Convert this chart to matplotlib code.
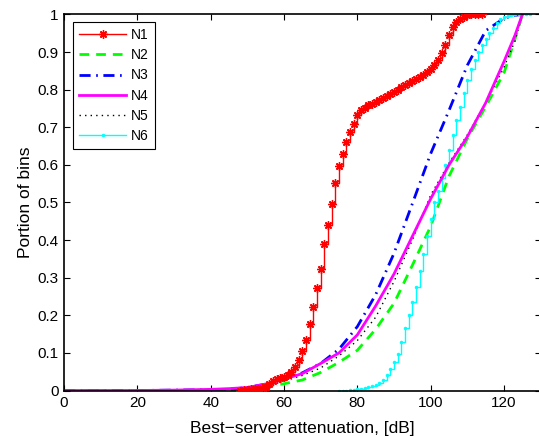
import numpy as np
import matplotlib
matplotlib.use("Agg")
import matplotlib.pyplot as plt

plt.rcParams['font.family'] = ['Liberation Sans', 'DejaVu Sans']

# ---- data: cumulative portion of bins vs. best-server attenuation [dB] ----
n1_x = list(range(48, 115))
n1_y = [0.000, 0.001, 0.002, 0.003, 0.004, 0.005, 0.007, 0.010, 0.018, 0.025,
        0.030, 0.033, 0.036, 0.042, 0.050, 0.062, 0.080, 0.105, 0.135, 0.178,
        0.222, 0.272, 0.322, 0.390, 0.440, 0.497, 0.553, 0.598, 0.630, 0.660,
        0.688, 0.710, 0.732, 0.745, 0.752, 0.758, 0.763, 0.768, 0.773, 0.778,
        0.783, 0.789, 0.795, 0.800, 0.806, 0.812, 0.818, 0.823, 0.828, 0.833,
        0.840, 0.848, 0.856, 0.866, 0.880, 0.897, 0.920, 0.945, 0.967, 0.980,
        0.988, 0.994, 0.998, 1.000, 1.000, 1.000, 1.000]

smooth_x = [0, 10, 20, 30, 40, 45, 50, 55, 60, 65, 70, 75, 80, 85, 90, 95,
            100, 105, 110, 115, 120, 123, 125]
n2_y = [0, 0, 0, 0.000, 0.001, 0.002, 0.004, 0.010, 0.018, 0.028, 0.048, 0.075,
        0.107, 0.163, 0.232, 0.333, 0.437, 0.570, 0.670, 0.755, 0.845, 0.935, 1.0]
n3_y = [0, 0, 0, 0.001, 0.002, 0.003, 0.008, 0.017, 0.030, 0.047, 0.072, 0.110,
        0.170, 0.255, 0.365, 0.497, 0.630, 0.745, 0.865, 0.957, 0.990, 0.998, 1.0]
n4_y = [0, 0, 0, 0.001, 0.003, 0.005, 0.008, 0.017, 0.030, 0.045, 0.072, 0.100,
        0.148, 0.225, 0.310, 0.410, 0.510, 0.600, 0.675, 0.765, 0.875, 0.945, 1.0]
n5_y = [0, 0, 0, 0.001, 0.002, 0.003, 0.006, 0.013, 0.025, 0.040, 0.060, 0.092,
        0.133, 0.195, 0.290, 0.400, 0.520, 0.605, 0.680, 0.765, 0.860, 0.930, 1.0]

n6_x = list(range(75, 128))
n6_y = [0.000, 0.000, 0.000, 0.001, 0.002, 0.003, 0.005, 0.007, 0.009, 0.012,
        0.015, 0.020, 0.028, 0.040, 0.056, 0.075, 0.098, 0.130, 0.165, 0.200,
        0.235, 0.275, 0.318, 0.362, 0.410, 0.455, 0.500, 0.530, 0.565, 0.600,
        0.640, 0.680, 0.720, 0.755, 0.790, 0.825, 0.855, 0.880, 0.900, 0.920,
        0.935, 0.950, 0.965, 0.978, 0.987, 0.993, 0.997, 0.999, 1.000, 1.000,
        1.000, 1.000, 1.000]

x_ticks = [0, 20, 40, 60, 80, 100, 120]
y_ticks = [0, 0.1, 0.2, 0.3, 0.4, 0.5, 0.6, 0.7, 0.8, 0.9, 1]
y_ticklabels = ['0', '0.1', '0.2', '0.3', '0.4', '0.5', '0.6', '0.7', '0.8', '0.9', '1']

# ---- figure ----
fig = plt.figure(figsize=(5.39, 4.36), dpi=100)
ax = fig.add_axes([64 / 539, 45.5 / 436, 476.7 / 539, 376 / 436])

asterisk = (8, 2, 0)
ax.plot(n1_x, n1_y, color='red', lw=1.0, drawstyle='steps-post',
        marker=asterisk, ms=6, mew=1.0, label='N1', zorder=3)
ax.plot(smooth_x, n2_y, color=(0, 1, 0), lw=2.0, ls=(0, (3.5, 2.5)), label='N2', zorder=2)
ax.plot(smooth_x, n3_y, color='blue', lw=2.0, ls=(0, (4, 2, 0.6, 2)), label='N3', zorder=2)
ax.plot(smooth_x, n4_y, color='magenta', lw=2.0, label='N4', zorder=2.5)
ax.plot(smooth_x, n5_y, color='black', lw=1.0, ls=(0, (1, 3)), label='N5', zorder=2)
ax.plot(n6_x, n6_y, color='cyan', lw=1.0, drawstyle='steps-post',
        marker='.', ms=3, label='N6', zorder=2)

ax.set_xlim(0, 130)
ax.set_ylim(0, 1)
ax.set_xticks(x_ticks)
ax.set_yticks(y_ticks)
ax.set_yticklabels(y_ticklabels)
ax.tick_params(direction='in', top=True, right=True, length=4, width=0.8,
               labelsize=11, pad=4)
for s in ax.spines.values():
    s.set_linewidth(1.2)

ax.set_xlabel('Best\u2212server attenuation, [dB]', fontsize=12.5, labelpad=8)
ax.set_ylabel('Portion of bins', fontsize=12.5, labelpad=3)

leg = ax.legend(loc='upper left', bbox_to_anchor=(73 / 539, 1 - 22 / 436),
                bbox_transform=fig.transFigure, borderaxespad=0, fontsize=10,
                fancybox=False, edgecolor='black', framealpha=1,
                handlelength=3.4, handletextpad=0.35, labelspacing=0.44,
                borderpad=0.45, numpoints=1)
leg.get_frame().set_linewidth(0.8)

fig.savefig('out.png', dpi=100)
